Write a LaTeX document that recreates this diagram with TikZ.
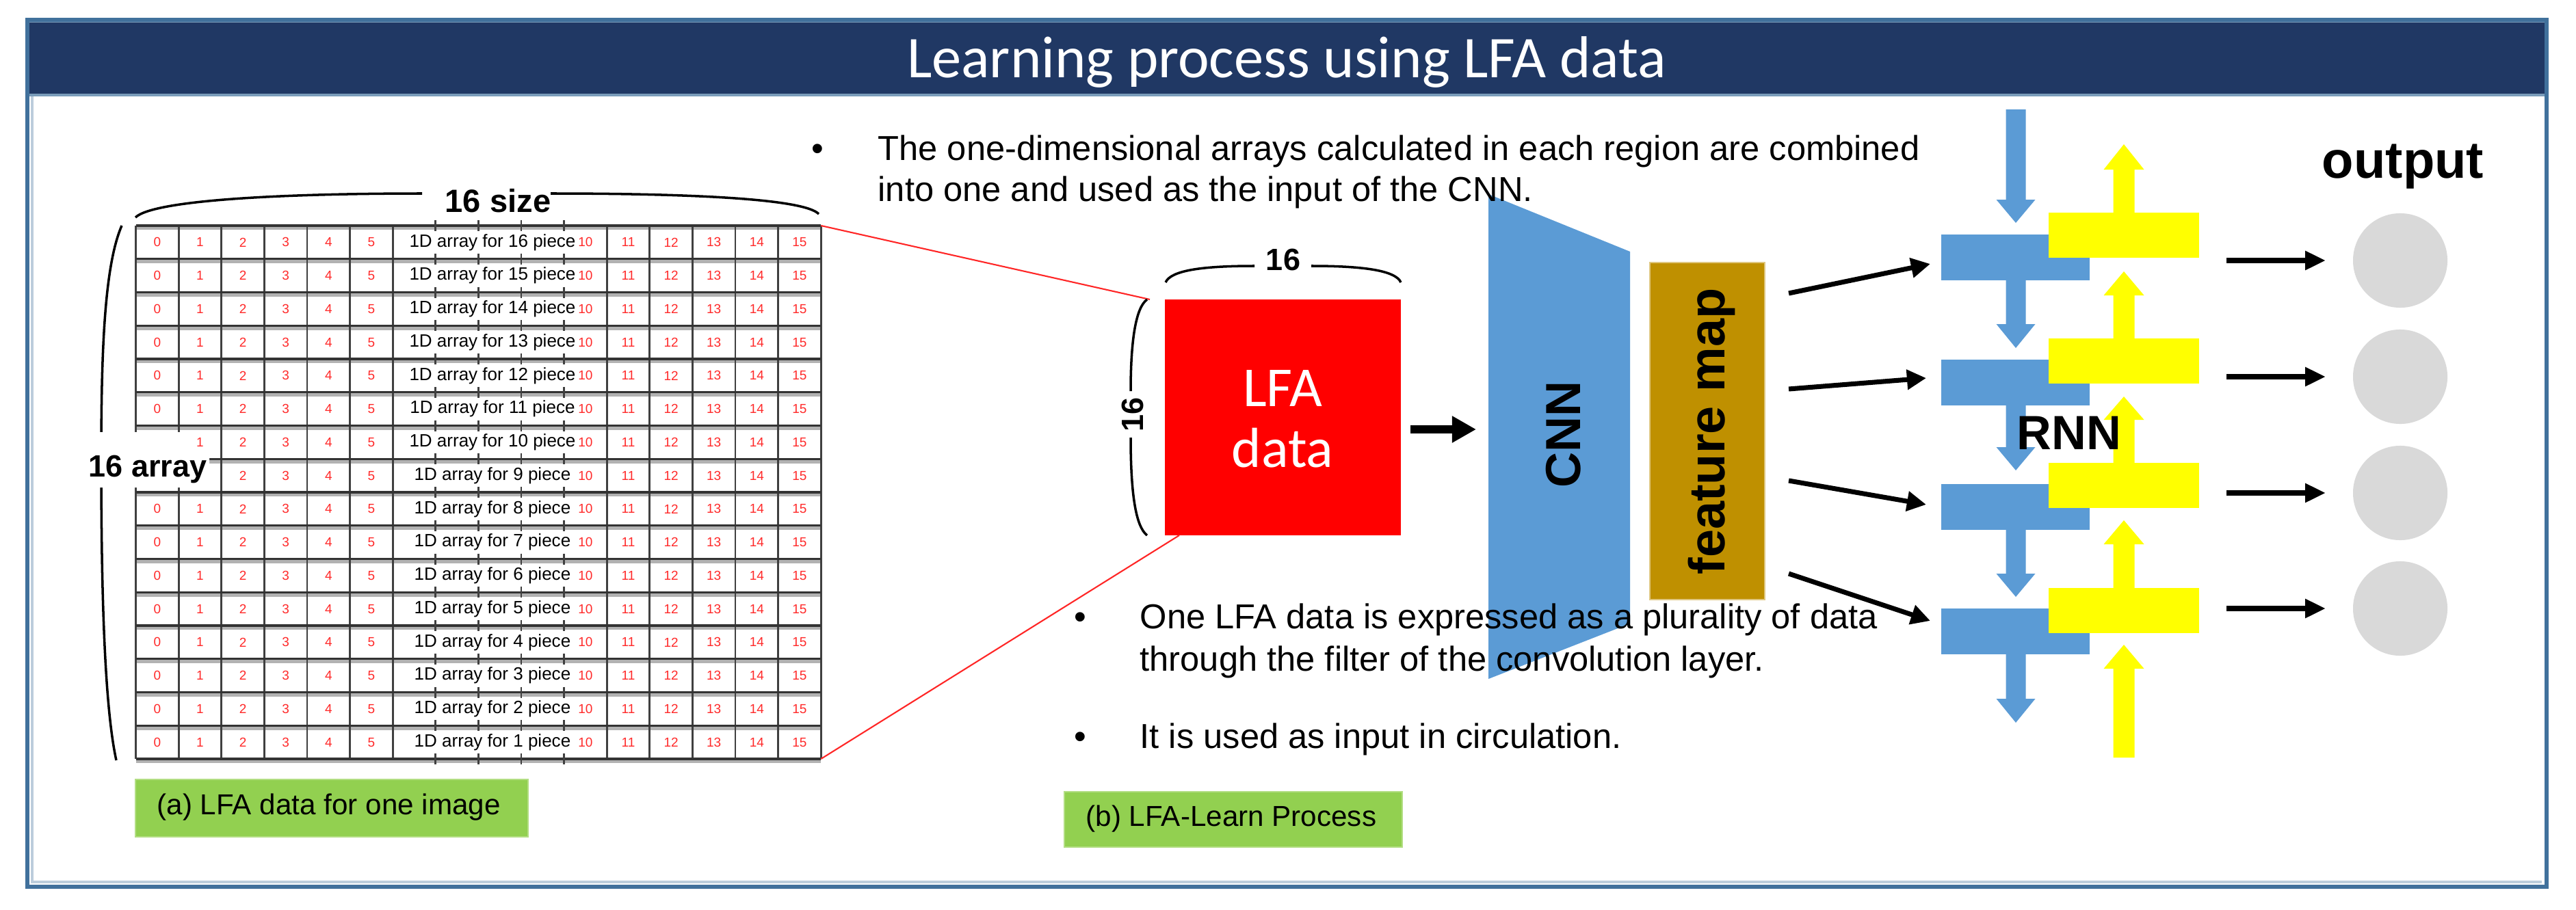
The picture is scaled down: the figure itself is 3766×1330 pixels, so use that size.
\documentclass[tikz,border=0pt]{standalone}
\usepackage{fontspec}
\setmainfont{Liberation Sans}
\newfontfamily\carlito{Carlito}
\usetikzlibrary{arrows.meta}
\definecolor{hdr}{HTML}{203864}
\definecolor{frm}{HTML}{41719C}
\definecolor{cnnblue}{HTML}{5B9BD5}
\definecolor{fmap}{HTML}{BF9000}
\definecolor{lbl}{HTML}{92D050}
\definecolor{circ}{HTML}{D9D9D9}
\definecolor{yel}{HTML}{FFFF00}
\definecolor{gridred}{HTML}{FF2A2A}
\newcommand\dnarrow[4]{\fill[cnnblue] ({#1-14.5},#2) -- ({#1+14.5},#2) -- ({#1+14.5},#3) -- ({#1+28.5},#3) -- (#1,#4) -- ({#1-28.5},#3) -- ({#1-14.5},#3) -- cycle;}
\newcommand\uparrowblk[4]{\fill[yel] ({#1-15.5},#2) -- ({#1+15.5},#2) -- ({#1+15.5},#3) -- ({#1+29.5},#3) -- (#1,#4) -- ({#1-29.5},#3) -- ({#1-15.5},#3) -- cycle;}
\begin{document}
\begin{tikzpicture}[x=0.01cm,y=-0.01cm,
  digit/.style={text=gridred,font=\fontsize{5.4pt}{6pt}\selectfont,inner sep=0pt},
  rowlbl/.style={font=\fontsize{7.4pt}{8pt}\selectfont,inner sep=0pt},
  bigbold/.style={font=\bfseries\fontsize{#1}{#1}\selectfont,inner sep=0pt},
  bullettxt/.style={font=\fontsize{14.4pt}{17pt}\selectfont,inner sep=0pt,anchor=base west},
  greenlbl/.style={fill=lbl,draw=lbl!70!white,line width=0.6pt,minimum height=0.84cm,anchor=north west,inner sep=0pt},
  blkarrow/.style={-{Triangle[length=8pt,width=8pt]},line width=2pt},
  outarrow/.style={-{Triangle[length=8.5pt,width=7.5pt]},line width=2.1pt},
  redline/.style={draw=red!85,line width=0.6pt},
  bracestyle/.style={draw=black,line width=1pt}]
\useasboundingbox (0,0) rectangle (3766,1330);
% frame and header
\fill[white] (40,29) rectangle (3723,1297);
\draw[frm!35,line width=1pt] (47,140) -- (47,1290) -- (3716,1290);
\fill[hdr] (40,29) rectangle (3723,140);
\draw[frm!70,line width=1.2pt] (40,31) -- (3723,31);
\draw[frm!70,line width=1.2pt] (40,139) -- (3723,139);
\draw[frm,line width=1.7pt] (40,29) rectangle (3723,1297);
\node[font=\carlito\fontsize{24.6pt}{26pt}\selectfont,text=white,anchor=base,inner sep=0pt] (title) at (1881,113) {Learning process using LFA data};

% ---------------- grid (a) ----------------
\foreach \i in {0,...,16} {
  \draw[black!30,line width=1.3pt] (198.6,{330+\i*48.75+4}) -- (1200.2,{330+\i*48.75+4});
}
\foreach \j in {0,...,6,11,12,13,14,15,16} {
  \draw[black!75,line width=0.75pt] ({198.6+\j*62.6},330) -- ({198.6+\j*62.6},1110);
}
\foreach \i in {0,...,16} {
  \draw[black!80,line width=0.95pt] (198.6,{330+\i*48.75}) -- (1200.2,{330+\i*48.75});
  \foreach \j in {7,8,9,10} {
    \draw[black!75,line width=0.75pt] ({198.6+\j*62.6},{330+\i*48.75-8}) -- ({198.6+\j*62.6},{330+\i*48.75+8});
  }
}
\foreach \r in {0,...,15} {
  \foreach \c in {0,...,5,10,11,12,13,14,15} {
    \pgfmathtruncatemacro\hid{(\r==6 && \c==0) || (\r==7 && \c<2) ? 1 : 0}
    \ifnum\hid=0
      \node[digit] (d-\r-\c) at ({198.6+(\c+0.5)*62.6},{330+(\r+0.5)*48.75}) {\c};
    \fi
  }
  \pgfmathtruncatemacro\pc{16-\r}
  \node[rowlbl] (row-\r) at (720,{330+(\r+0.5)*48.75}) {1D array for \pc\ piece};
}
% braces of grid
\draw[bracestyle] (198,318) .. controls (225,292) and (420,283) .. (617,283);
\draw[bracestyle] (805,283) .. controls (1000,283) and (1175,290) .. (1197,313);
\node[bigbold=13.4pt,anchor=base] (size16) at (728,310) {16 size};
\draw[bracestyle] (178,330) .. controls (152,390) and (148,520) .. (148,672);
\draw[bracestyle] (148,672) .. controls (148,850) and (152,1030) .. (170,1112);
\fill[white] (124,632) -- (282,632) -- (282,665) -- (306,665) -- (306,713) -- (124,713) -- cycle;
\node[bigbold=12.8pt,anchor=base west] (arr16) at (129,697) {16 array};
\node[greenlbl,minimum width=5.74cm] (lbla) at (197,1139) {};
\node[font=\fontsize{12pt}{14pt}\selectfont,anchor=west,inner sep=0pt] (lblatxt) at (229,1181) {(a) LFA data for one image};

% ---------------- LFA data box ----------------
\node[fill=red,minimum width=3.45cm,minimum height=3.45cm,inner sep=0pt] (lfa) at (1875.5,610.5) {};
\node[font=\carlito\fontsize{23.5pt}{25pt}\selectfont,text=white,anchor=base,inner sep=0pt] (lfa1) at (1875,594) {LFA};
\node[font=\carlito\fontsize{23.5pt}{25pt}\selectfont,text=white,anchor=base,inner sep=0pt] (lfa2) at (1875,683) {data};
\coordinate (gridtr) at (1200.2,330);
\coordinate (gridbr) at (1200.2,1110);
\coordinate (lfatl) at (1681,438);
\coordinate (lfabl) at (1724,783);
\draw[redline] (gridtr) -- (lfatl);
\draw[redline] (gridbr) -- (lfabl);
\draw[bracestyle] (1704,413) .. controls (1712,395) and (1760,389) .. (1834,389);
\draw[bracestyle] (1917,389) .. controls (1990,389) and (2040,395) .. (2048,413);
\node[bigbold=12.8pt,anchor=base] (top16) at (1876,395) {16};
\draw[bracestyle] (1677,438) .. controls (1660,450) and (1653,500) .. (1653,572);
\draw[bracestyle] (1653,640) .. controls (1653,720) and (1660,770) .. (1677,783);
\node[bigbold=12.8pt,rotate=90] (left16) at (1656,606) {16};

% ---------------- CNN ----------------
\fill[cnnblue] (2176,284) -- (2383,368) -- (2383,912) -- (2176,993) -- cycle;
\coordinate (cnnc) at (2286,635);
\node[bigbold=20.5pt,rotate=90] (cnn) at (cnnc) {CNN};
\coordinate (arrs) at (2062,628);
\coordinate (arre) at (2158,628);
\draw[-{Triangle[length=10pt,width=10.5pt]},line width=3.2pt] (arrs) -- (arre);

% feature map
\node[fill=fmap,draw=fmap!50!white,line width=0.5pt,minimum width=1.68cm,minimum height=4.93cm,inner sep=0pt] (fm) at (2496,630.5) {};
\node[bigbold=21pt,rotate=90] (fmtxt) at (2502,631) {feature map};

% ---------------- RNN ----------------
\dnarrow{2947}{160}{292}{326}
\dnarrow{2947}{405}{474}{509}
\dnarrow{2947}{588}{654}{688}
\dnarrow{2947}{770}{839}{873}
\dnarrow{2947}{953}{1022}{1057}
\foreach \y/\n in {343/1,526/2,708/3,890/4} {
  \fill[cnnblue] (2838,\y) rectangle (3055,{\y+67});
}
\uparrowblk{3105}{315}{248}{211}
\uparrowblk{3105}{499}{432}{397}
\uparrowblk{3105}{681}{614}{580}
\uparrowblk{3105}{864}{796}{761}
\uparrowblk{3105}{1108}{978}{943}
\foreach \y/\n in {311/1,495/2,677/3,860/4} {
  \fill[yel] (2995,\y) rectangle (3215,{\y+66});
}
\node[bigbold=20pt] (rnn) at (3025,633) {RNN};

% arrows feature map -> RNN
\coordinate (fs1) at (2615,429);
\coordinate (fs2) at (2615,569);
\coordinate (fs3) at (2615,703);
\coordinate (fs4) at (2615,839);
\coordinate (fe1) at (2822,386);
\coordinate (fe2) at (2816,553);
\coordinate (fe3) at (2816,738);
\coordinate (fe4) at (2822,908);
\foreach \k in {1,2,3,4} { \draw[blkarrow] (fs\k) -- (fe\k); }

% outputs
\foreach \y/\k in {381/1,551/2,721/3,890/4} {
  \node[circle,fill=circ,minimum size=1.38cm,inner sep=0pt] (out\k) at (3509,\y) {};
  \coordinate (os\k) at (3255,\y);
  \draw[outarrow] (os\k) -- ({3400},\y);
}
\node[bigbold=21.6pt,anchor=base] (outputlbl) at (3513,260) {output};

% ---------------- bullets ----------------
\node[font=\fontsize{14.4pt}{17pt}\selectfont,anchor=base,inner sep=0pt] (b1dot) at (1195,234) {•};
\node[bullettxt] (b1l1) at (1283,234) {The one-dimensional arrays calculated in each region are combined};
\node[bullettxt] (b1l2) at (1283,294) {into one and used as the input of the CNN.};
\node[font=\fontsize{14.4pt}{17pt}\selectfont,anchor=base,inner sep=0pt] (b2dot) at (1579,919) {•};
\node[bullettxt] (b2l1) at (1666,919) {One LFA data is expressed as a plurality of data};
\node[bullettxt] (b2l2) at (1666,981) {through the filter of the convolution layer.};
\node[font=\fontsize{14.4pt}{17pt}\selectfont,anchor=base,inner sep=0pt] (b3dot) at (1579,1094) {•};
\node[bullettxt] (b3l1) at (1666,1094) {It is used as input in circulation.};
\node[greenlbl,minimum width=4.94cm,minimum height=0.81cm] (lblb) at (1555,1157) {};
\node[font=\fontsize{12pt}{14pt}\selectfont,anchor=west,inner sep=0pt] (lblbtxt) at (1587,1197.5) {(b) LFA-Learn Process};
\end{tikzpicture}
\end{document}
